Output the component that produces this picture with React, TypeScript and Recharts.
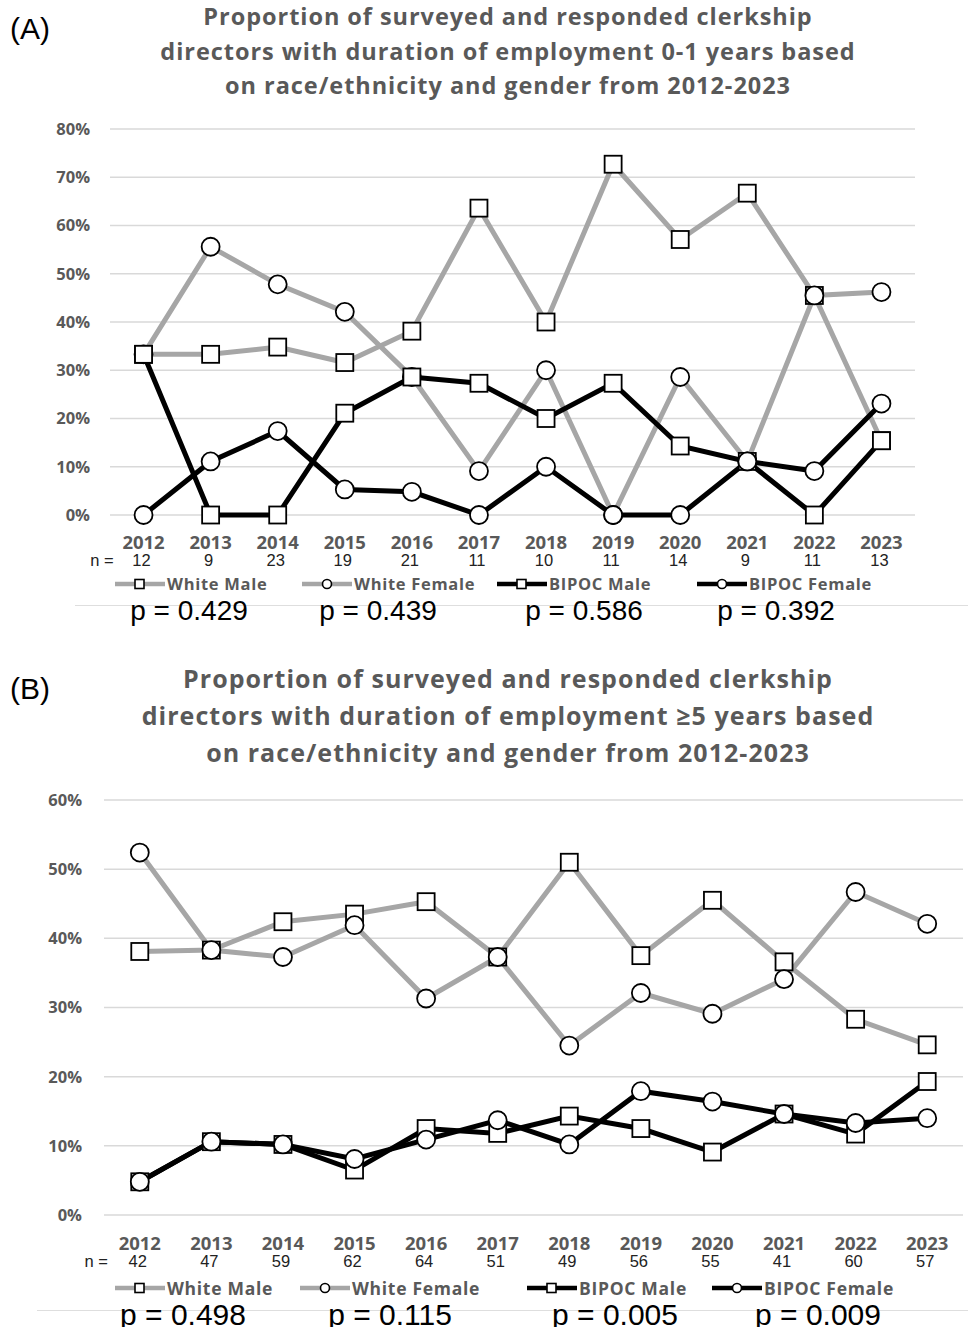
import React from 'react';
import { LineChart, Line, XAxis, YAxis, CartesianGrid } from 'recharts';

const years = ['2012', '2013', '2014', '2015', '2016', '2017', '2018', '2019', '2020', '2021', '2022', '2023'];

// (A) employment 0-1 years
const nA = [12, 9, 23, 19, 21, 11, 10, 11, 14, 9, 11, 13];
const whiteMaleA = [33.3, 33.3, 34.8, 31.6, 38.1, 63.6, 40.0, 72.7, 57.1, 66.7, 45.5, 15.4];
const whiteFemaleA = [33.3, 55.6, 47.8, 42.1, 28.6, 9.1, 30.0, 0, 28.6, 11.1, 45.5, 46.2];
const bipocMaleA = [33.3, 0, 0, 21.1, 28.6, 27.3, 20.0, 27.3, 14.3, 11.1, 0, 15.4];
const bipocFemaleA = [0, 11.1, 17.4, 5.3, 4.8, 0, 10.0, 0, 0, 11.1, 9.1, 23.1];
const pA = ['0.429', '0.439', '0.586', '0.392'];
const titleA = [
  'Proportion of surveyed and responded clerkship',
  'directors with duration of employment 0-1 years based',
  'on race/ethnicity and gender from 2012-2023',
];
const ticksA = [0, 10, 20, 30, 40, 50, 60, 70, 80];

// (B) employment >=5 years
const nB = [42, 47, 59, 62, 64, 51, 49, 56, 55, 41, 60, 57];
const whiteMaleB = [38.1, 38.3, 42.4, 43.5, 45.3, 37.3, 51.0, 37.5, 45.5, 36.6, 28.3, 24.6];
const whiteFemaleB = [52.4, 38.3, 37.3, 41.9, 31.3, 37.3, 24.5, 32.1, 29.1, 34.1, 46.7, 42.1];
const bipocMaleB = [4.8, 10.6, 10.2, 6.5, 12.5, 11.8, 14.3, 12.5, 9.1, 14.6, 11.7, 19.3];
const bipocFemaleB = [4.8, 10.6, 10.2, 8.1, 10.9, 13.7, 10.2, 17.9, 16.4, 14.6, 13.3, 14.0];
const pB = ['0.498', '0.115', '0.005', '0.009'];
const titleB = [
  'Proportion of surveyed and responded clerkship',
  'directors with duration of employment \u22655 years based',
  'on race/ethnicity and gender from 2012-2023',
];
const ticksB = [0, 10, 20, 30, 40, 50, 60];

const seriesNames = ['White Male', 'White Female', 'BIPOC Male', 'BIPOC Female'];
const seriesKeys = ['wm', 'wf', 'bm', 'bf'];

const GRAY = '#a6a6a6';
const TEXT = '#595959';
const BOLD_FONT = '"Open Sans", Lato, sans-serif';
const PLAIN_FONT = '"Liberation Sans", Arial, sans-serif';

const seriesStyle = [
  { color: GRAY, shape: 'square' },
  { color: GRAY, shape: 'circle' },
  { color: '#000000', shape: 'square' },
  { color: '#000000', shape: 'circle' },
];

const buildRows = (values: number[][], n: number[]) =>
  years.map((year, i) => {
    const row: any = { year, n: n[i] };
    seriesKeys.forEach((k, s) => (row[k] = values[s][i]));
    return row;
  });

const dataA = buildRows([whiteMaleA, whiteFemaleA, bipocMaleA, bipocFemaleA], nA);
const dataB = buildRows([whiteMaleB, whiteFemaleB, bipocMaleB, bipocFemaleB], nB);

const makeDot = (shape: string, size: number) => (props: any) => {
  const { cx, cy, index } = props;
  if (cx == null || cy == null) return <g key={`d-${index}`} />;
  if (shape === 'square') {
    return (
      <rect
        key={`d-${index}`}
        x={cx - size / 2}
        y={cy - size / 2}
        width={size}
        height={size}
        fill="#fff"
        stroke="#000"
        strokeWidth={1.8}
      />
    );
  }
  return <circle key={`d-${index}`} cx={cx} cy={cy} r={size / 2} fill="#fff" stroke="#000" strokeWidth={1.8} />;
};

const makeTick = (data: any[], yearSize: number, nSize: number, nOffset: number, nLabelGap: number) => (props: any) => {
  const { x, y, payload, index } = props;
  const row = data[index] || {};
  return (
    <g>
      <text x={x} y={y} textAnchor="middle" dominantBaseline="central" fill={TEXT}
        style={{ fontFamily: BOLD_FONT, fontWeight: 700, fontSize: yearSize }}>
        {payload.value}
      </text>
      <text x={x - 2} y={y + nOffset} textAnchor="middle" dominantBaseline="central" fill="#222"
        style={{ fontFamily: PLAIN_FONT, fontSize: nSize }}>
        {row.n}
      </text>
      {index === 0 && (
        <text x={x - nLabelGap} y={y + nOffset} textAnchor="end" dominantBaseline="central" fill="#222"
          style={{ fontFamily: PLAIN_FONT, fontSize: nSize }}>
          n =
        </text>
      )}
    </g>
  );
};

const LegendIcon = ({ color, shape }: { color: string; shape: string }) => (
  <svg width={50} height={14} style={{ display: 'block' }}>
    <line x1={0} y1={7} x2={50} y2={7} stroke={color} strokeWidth={4.5} />
    {shape === 'square' ? (
      <rect x={20} y={2.5} width={9} height={9} fill="#fff" stroke="#000" strokeWidth={1.6} />
    ) : (
      <circle cx={25} cy={7} r={4.5} fill="#fff" stroke="#000" strokeWidth={1.6} />
    )}
  </svg>
);

type PanelProps = {
  top: number;
  letter: string;
  title: string[];
  titleSize: number;
  titleLine: number;
  titleTop: number;
  titleSpacing: number;
  data: any[];
  ticks: number[];
  plot: { left: number; right: number; top: number; bottom: number };
  yTickGap: number;
  yearGap: number;
  nOffset: number;
  nLabelGap: number;
  legendTop: number;
  legendLeft: number[];
  legendSize: number;
  ruleTop: number;
  ruleLeft: number;
  p: string[];
  pCenters: number[];
  pTop: number;
  pSize: number;
};

const Panel = (cfg: PanelProps) => {
  const H = 640;
  const xAxisH = 60;
  const yAxisW = 80;
  const halfBand = (cfg.plot.right - cfg.plot.left) / years.length / 2;
  return (
    <div style={{ position: 'absolute', left: 0, top: cfg.top, width: 968, height: 668 }}>
      <div style={{ position: 'absolute', left: 10, top: 12, fontFamily: PLAIN_FONT, fontSize: 30, color: '#000' }}>
        {cfg.letter}
      </div>
      <div
        style={{
          position: 'absolute', left: 108, width: 800, top: cfg.titleTop, textAlign: 'center',
          fontFamily: BOLD_FONT, fontWeight: 700, fontSize: cfg.titleSize, lineHeight: `${cfg.titleLine}px`,
          letterSpacing: cfg.titleSpacing, color: TEXT,
        }}
      >
        {cfg.title.map((t) => (
          <div key={t}>{t}</div>
        ))}
      </div>
      <div style={{ position: 'absolute', left: 0, top: 0 }}>
        <LineChart
          width={968}
          height={H}
          data={cfg.data}
          margin={{
            top: cfg.plot.top,
            right: 968 - cfg.plot.right,
            left: cfg.plot.left - yAxisW,
            bottom: H - cfg.plot.bottom - xAxisH,
          }}
        >
          <CartesianGrid vertical={false} stroke="#d9d9d9" strokeWidth={1.5} />
          <XAxis
            dataKey="year"
            axisLine={false}
            tickLine={false}
            tickSize={0}
            height={xAxisH}
            interval={0}
            padding={{ left: halfBand, right: halfBand }}
            tick={makeTick(cfg.data, 18.5, 16.5, cfg.nOffset, cfg.nLabelGap)}
            tickMargin={cfg.yearGap}
          />
          <YAxis
            width={yAxisW}
            domain={[0, cfg.ticks[cfg.ticks.length - 1]]}
            ticks={cfg.ticks}
            axisLine={false}
            tickLine={false}
            tickSize={0}
            tickMargin={cfg.yTickGap}
            tickFormatter={(v) => `${v}%`}
            tick={{ fill: TEXT, fontFamily: BOLD_FONT, fontWeight: 700, fontSize: 16.5 }}
          />
          {seriesKeys.map((k, i) => (
            <Line
              key={k}
              dataKey={k}
              name={seriesNames[i]}
              type="linear"
              stroke={seriesStyle[i].color}
              strokeWidth={5}
              dot={makeDot(seriesStyle[i].shape, seriesStyle[i].shape === 'square' ? 17 : 18)}
              activeDot={false}
              isAnimationActive={false}
            />
          ))}
        </LineChart>
      </div>
      {seriesNames.map((name, i) => (
        <div
          key={name}
          style={{
            position: 'absolute', left: cfg.legendLeft[i], top: cfg.legendTop, display: 'flex', alignItems: 'center',
            gap: 2, fontFamily: BOLD_FONT, fontWeight: 700, fontSize: cfg.legendSize, color: TEXT, whiteSpace: 'nowrap',
            lineHeight: '20px', letterSpacing: 0.7,
          }}
        >
          <LegendIcon color={seriesStyle[i].color} shape={seriesStyle[i].shape} />
          <span>{name}</span>
        </div>
      ))}
      <div style={{ position: 'absolute', left: cfg.ruleLeft, right: 0, top: cfg.ruleTop, height: 1, background: '#dedede' }} />
      {cfg.p.map((v, i) => (
        <div
          key={i}
          style={{
            position: 'absolute', left: cfg.pCenters[i] - 100, width: 200, top: cfg.pTop, textAlign: 'center',
            fontFamily: PLAIN_FONT, fontSize: cfg.pSize, color: '#000', lineHeight: 1,
          }}
        >
          p = {v}
        </div>
      ))}
    </div>
  );
};

export default function App() {
  return (
    <div style={{ position: 'absolute', left: 0, top: 0, width: 968, height: 1327, background: '#fff', overflow: 'hidden' }}>
      <Panel
        top={0}
        letter="(A)"
        title={titleA}
        titleSize={23.5}
        titleLine={34.5}
        titleTop={-1}
        titleSpacing={0.95}
        data={dataA}
        ticks={ticksA}
        plot={{ left: 110, right: 915, top: 129, bottom: 515 }}
        yTickGap={20}
        yearGap={26}
        nOffset={19}
        nLabelGap={30}
        legendTop={574}
        legendLeft={[115, 302, 497, 697]}
        legendSize={16.5}
        ruleTop={605}
        ruleLeft={75}
        p={pA}
        pCenters={[189, 378, 584, 776]}
        pTop={597}
        pSize={28}
      />
      <Panel
        top={660}
        letter="(B)"
        title={titleB}
        titleSize={25}
        titleLine={37}
        titleTop={0}
        titleSpacing={1.05}
        data={dataB}
        ticks={ticksB}
        plot={{ left: 104, right: 963, top: 140, bottom: 555 }}
        yTickGap={22}
        yearGap={27}
        nOffset={19}
        nLabelGap={32}
        legendTop={618}
        legendLeft={[115, 300, 527, 712]}
        legendSize={17.5}
        ruleTop={650}
        ruleLeft={37}
        p={pB}
        pCenters={[183, 390, 615, 818]}
        pTop={640}
        pSize={30}
      />
    </div>
  );
}
